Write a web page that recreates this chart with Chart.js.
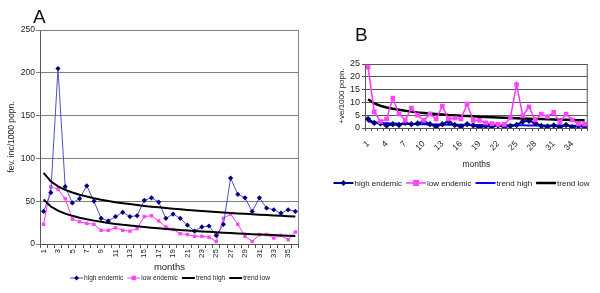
<!DOCTYPE html>
<html>
<head>
<meta charset="utf-8">
<script src="https://cdn.jsdelivr.net/npm/chart.js@4.4.1/dist/chart.umd.min.js"></script>
<style>
  html, body { margin: 0; padding: 0; background: #fff; }
  body { width: 600px; height: 293px; position: relative; overflow: hidden; font-family: 'Liberation Sans', Arial, sans-serif; }
  #wrapA { position: absolute; left: 0; top: 0; width: 306px; height: 293px; }
  #wrapB { position: absolute; left: 306px; top: 0; width: 294px; height: 293px; }
  .panel { position: absolute; font-size: 19px; line-height: 1; color: #111; }
</style>
</head>
<body>
<div id="wrapA"><canvas id="chartA" width="306" height="293"></canvas></div>
<div id="wrapB"><canvas id="chartB" width="294" height="293"></canvas></div>
<div class="panel" style="left:33px; top:7px;">A</div>
<div class="panel" style="left:355px; top:25px;">B</div>
<script>
// ---------- Panel A data ----------
const monthsA = ['1','2','3','4','5','6','7','8','9','10','11','12','13','14','15','16','17','18',
                 '19','20','21','22','23','24','25','26','27','28','29','30','31','32','33','34','35','36'];
const highEndemicA = [38,60,205,67,48,53,68,50,30,27,32,37,32,33,51,54,49,30,35,30,22,15,20,21,10,23,77,58,54,38,54,42,40,36,40,38];
const lowEndemicA  = [23,67,64,53,29,26,24,23,16,16,19,16,15,18,32,33,27,20,17,12,11,9,9,8,3,30,35,23,9,3,11,11,7,10,5,14];
const trendHighA = [83,73.2,67.4,63.3,60.2,57.6,55.4,53.5,51.8,50.3,48.9,47.7,46.6,45.5,44.5,43.6,42.8,42.0,
                    41.2,40.5,39.8,39.1,38.5,37.9,37.3,36.7,36.2,35.7,35.2,34.7,34.2,33.8,33.3,32.9,32.5,32.1];
const trendLowA  = [52,43.8,38.9,35.5,32.9,30.7,28.8,27.3,25.9,24.6,23.5,22.4,21.5,20.6,19.8,19.0,18.3,17.6,
                    17.0,16.3,15.8,15.2,14.7,14.2,13.7,13.2,12.8,12.3,11.9,11.5,11.1,10.8,10.4,10.0,9.7,9.4];
const yTicksA = [0,50,100,150,200,250];

// ---------- Panel B data ----------
const monthsB = ['1','2','3','4','5','6','7','8','9','10','11','12','13','14','15','16','17','18',
                 '19','20','21','22','23','24','25','26','27','28','29','30','31','32','33','34','35','36'];
const highEndemicB = [3.5,2,1.8,1,1.5,1.2,2,1.5,1.8,2.5,1.5,0.5,1.5,2.5,1.2,0.5,1.5,1,0.3,0.8,0.5,1,0.5,0.8,1.2,2.5,2.8,2,0.8,0.5,1,0.3,1.2,0.3,0.8,0.5];
const lowEndemicB  = [23.8,6.3,2.5,3.5,11.7,5.5,3,7.8,5,3,5.5,3.5,8.6,3.5,3.9,3.5,9.3,3,3,2,1.7,1.4,1.4,4,17,4.7,8.3,3.2,5.4,4.4,6.1,2.4,5.4,3.2,1.6,1.5];
const trendHighB = [2.5,2.2,2.0,1.9,1.8,1.7,1.6,1.6,1.5,1.5,1.4,1.4,1.35,1.3,1.3,1.25,1.25,1.2,
                    1.2,1.15,1.15,1.1,1.1,1.07,1.05,1.03,1.02,1.0,0.99,0.97,0.96,0.94,0.93,0.92,0.9,0.89];
const trendLowB  = [11.2,9.6,8.7,8.0,7.5,7.1,6.7,6.4,6.1,5.9,5.7,5.5,5.3,5.1,5.0,4.8,4.7,4.6,
                    4.4,4.3,4.2,4.1,4.0,3.9,3.8,3.7,3.6,3.5,3.5,3.4,3.3,3.2,3.2,3.1,3.0,3.0];
const yTicksB = [0,5,10,15,20,25];
const xLabelStepB = 3;

const FONT = "'Liberation Sans', Arial, sans-serif";

function drawMarker(ctx, style, x, y, r, color) {
  ctx.fillStyle = color;
  ctx.beginPath();
  if (style === 'diamond') {
    ctx.moveTo(x, y - r); ctx.lineTo(x + r, y); ctx.lineTo(x, y + r); ctx.lineTo(x - r, y);
  } else {
    ctx.rect(x - r, y - r, 2 * r, 2 * r);
  }
  ctx.closePath();
  ctx.fill();
}

const customLegend = {
  id: 'customLegend',
  afterDraw(chart, args, o) {
    const ctx = chart.ctx;
    ctx.save();
    ctx.font = o.fontSize + 'px ' + FONT;
    ctx.textBaseline = 'middle';
    ctx.textAlign = 'left';
    const widths = o.items.map(it => ctx.measureText(it.text).width);
    let total = 0;
    o.items.forEach((it, i) => { total += o.lineLen + o.textGap + widths[i]; });
    total += o.itemGap * (o.items.length - 1);
    let x = o.cx - total / 2;
    const y = o.cy;
    o.items.forEach((it, i) => {
      ctx.strokeStyle = it.color;
      ctx.lineWidth = it.width;
      ctx.beginPath(); ctx.moveTo(x, y); ctx.lineTo(x + o.lineLen, y); ctx.stroke();
      if (it.marker) drawMarker(ctx, it.marker, x + o.lineLen / 2, y, it.r, it.markerColor);
      x += o.lineLen + o.textGap;
      ctx.fillStyle = '#222';
      ctx.fillText(it.text, x, y + 0.5);
      x += widths[i] + o.itemGap;
    });
    ctx.restore();
  }
};

const areaBorder = {
  id: 'areaBorder',
  beforeDatasetsDraw(chart, args, o) {
    const {left, top, right, bottom} = chart.chartArea;
    const ctx = chart.ctx;
    ctx.save();
    ctx.strokeStyle = o.color;
    ctx.lineWidth = 1;
    ctx.beginPath();
    ctx.moveTo(left, top + 0.5); ctx.lineTo(right - 0.5, top + 0.5); ctx.lineTo(right - 0.5, bottom);
    ctx.stroke();
    ctx.restore();
  }
};

// ---------- Chart A ----------
new Chart(document.getElementById('chartA'), {
  type: 'line',
  data: {
    labels: monthsA,
    datasets: [
      { label: 'trend high', data: trendHighA, borderColor: '#000', borderWidth: 2, pointRadius: 0, fill: false },
      { label: 'trend low', data: trendLowA, borderColor: '#000', borderWidth: 2, pointRadius: 0, fill: false },
      { label: 'high endemic', data: highEndemicA, borderColor: '#4f4fc8', borderWidth: 1,
        pointStyle: 'rectRot', pointRadius: 2.6, pointBackgroundColor: '#000080', pointBorderWidth: 0, fill: false },
      { label: 'low endemic', data: lowEndemicA, borderColor: '#ff33ff', borderWidth: 1,
        pointStyle: 'rect', pointRadius: 2.4, pointBackgroundColor: '#ff44ff', pointBorderWidth: 0, fill: false }
    ]
  },
  options: {
    responsive: false, animation: false, devicePixelRatio: 1,
    layout: { padding: { top: 30, left: 0, right: 1, bottom: 0 } },
    elements: { line: { tension: 0 } },
    plugins: {
      legend: { display: false }, tooltip: { enabled: false },
      areaBorder: { color: '#808080' },
      customLegend: {
        cx: 170, cy: 278, fontSize: 6.6, lineLen: 13, textGap: 1, itemGap: 4,
        items: [
          { text: 'high endemic', color: '#4f4fc8', width: 1, marker: 'diamond', r: 2.4, markerColor: '#000080' },
          { text: 'low endemic', color: '#ff33ff', width: 1, marker: 'square', r: 2.2, markerColor: '#ff44ff' },
          { text: 'trend high', color: '#000', width: 2 },
          { text: 'trend low', color: '#000', width: 2 }
        ]
      }
    },
    scales: {
      x: {
        type: 'category', offset: true,
        afterFit(s) { s.height = 49; },
        grid: { offset: true, drawOnChartArea: false, drawTicks: true, tickLength: 4, color: '#555' },
        border: { color: '#555' },
        ticks: {
          autoSkip: false, minRotation: 90, maxRotation: 90, padding: 1,
          color: '#222', font: { family: FONT, size: 8 },
          callback(v, i) { return i % 2 === 0 ? monthsA[i] : ''; }
        },
        title: { display: true, text: 'months', color: '#222', font: { family: FONT, size: 9.5 },
                 padding: { top: 0, bottom: 19.5 } }
      },
      y: {
        min: 0, max: 250,
        afterFit(s) { s.width = 40; },
        afterBuildTicks(s) { s.ticks = yTicksA.map(v => ({ value: v })); },
        grid: { color: '#808080', tickLength: 4 },
        border: { color: '#555' },
        ticks: { autoSkip: false, color: '#222', font: { family: FONT, size: 8.5 }, padding: 1 },
        title: { display: true, text: 'fev. inc/1000 popn.', color: '#222', font: { family: FONT, size: 8.5 },
                 padding: { top: 7, bottom: 0 } }
      }
    }
  },
  plugins: [areaBorder, customLegend]
});

// ---------- Chart B ----------
new Chart(document.getElementById('chartB'), {
  type: 'line',
  data: {
    labels: monthsB,
    datasets: [
      { label: 'low endemic', data: lowEndemicB, borderColor: '#ff33ff', borderWidth: 1.5,
        pointStyle: 'rect', pointRadius: 3.3, pointBackgroundColor: '#ff44ff', pointBorderWidth: 0, fill: false },
      { label: 'trend low', data: trendLowB, borderColor: '#000', borderWidth: 2.5, pointRadius: 0, fill: false },
      { label: 'high endemic', data: highEndemicB, borderColor: '#000080', borderWidth: 2,
        pointStyle: 'rectRot', pointRadius: 3.2, pointBackgroundColor: '#000080', pointBorderWidth: 0, fill: false },
      { label: 'trend high', data: trendHighB, borderColor: '#0000ff', borderWidth: 2, pointRadius: 0, fill: false }
    ]
  },
  options: {
    responsive: false, animation: false, devicePixelRatio: 1,
    layout: { padding: { top: 64, left: 0, right: 10, bottom: 0 } },
    elements: { line: { tension: 0 } },
    plugins: {
      legend: { display: false }, tooltip: { enabled: false },
      areaBorder: { color: '#555' },
      customLegend: {
        cx: 155.5, cy: 183, fontSize: 8, lineLen: 20, textGap: 1, itemGap: 4,
        items: [
          { text: 'high endemic', color: '#000080', width: 2, marker: 'diamond', r: 3, markerColor: '#000080' },
          { text: 'low endemic', color: '#ff33ff', width: 1.5, marker: 'square', r: 3, markerColor: '#ff44ff' },
          { text: 'trend high', color: '#0000ff', width: 2 },
          { text: 'trend low', color: '#000', width: 2.5 }
        ]
      }
    },
    scales: {
      x: {
        type: 'category', offset: true,
        afterFit(s) { s.height = 165; },
        grid: { offset: true, drawOnChartArea: false, drawTicks: true, tickLength: 3, color: '#555' },
        border: { color: '#555' },
        ticks: {
          autoSkip: false, minRotation: 45, maxRotation: 45, padding: 8,
          color: '#222', font: { family: FONT, size: 8.5 },
          callback(v, i) { return i % xLabelStepB === 0 ? monthsB[i] : ''; }
        },
        title: { display: true, text: 'months', color: '#222', font: { family: FONT, size: 8.5 },
                 padding: { top: 0, bottom: 123 } }
      },
      y: {
        min: 0, max: 25,
        afterFit(s) { s.width = 59; },
        afterBuildTicks(s) { s.ticks = yTicksB.map(v => ({ value: v })); },
        grid: { color: '#555', tickLength: 3 },
        border: { color: '#555' },
        ticks: { autoSkip: false, color: '#222', font: { family: FONT, size: 9 }, padding: 2 },
        title: { display: true, text: '+ve/1000 popn.', color: '#222', font: { family: FONT, size: 8 },
                 padding: { top: 31, bottom: 0 } }
      }
    }
  },
  plugins: [areaBorder, customLegend]
});
</script>
</body>
</html>
